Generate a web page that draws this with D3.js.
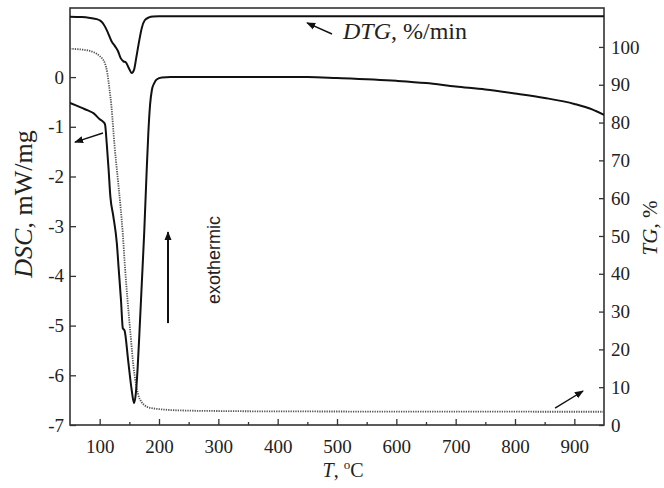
<!DOCTYPE html>
<html>
<head>
<meta charset="utf-8">
<script src="https://cdn.jsdelivr.net/npm/d3@7"></script>
<style>
  body { margin: 0; background: #fff; }
  svg { display: block; }
  .tick text { font-family: "Liberation Serif", "Times New Roman", serif; font-size: 19px; fill: #222; }
  .tick line { stroke: #333; stroke-width: 1.3; }
  .ttl { font-family: "Liberation Serif", "Times New Roman", serif; fill: #222; }
</style>
</head>
<body>
<div id="chart"></div>
<script>
// DSC curve, mW/mg (left axis)
var dscT = [50, 60, 70, 80, 90, 100, 106, 109, 112, 115, 118, 123, 129, 132, 136, 139, 142, 148, 154, 158,
            161, 164, 167, 171, 175, 179, 182, 185, 188, 192, 196, 205, 220, 300, 400, 450, 500, 600, 650,
            700, 750, 800, 850, 900, 930, 950];
var dscV = [-0.52, -0.57, -0.62, -0.67, -0.73, -0.85, -0.9, -0.95, -1.35, -1.85, -2.4, -2.8, -3.35, -3.85, -4.5, -5.05, -5.1, -5.7, -6.3, -6.56,
            -6.36, -5.85, -5.15, -4.15, -3.15, -1.95, -1.13, -0.55, -0.26, -0.12, -0.05, -0.01, 0, 0, 0, 0, -0.02, -0.075, -0.12,
            -0.19, -0.25, -0.33, -0.42, -0.54, -0.65, -0.76];

// TG curve, % (right axis)
var tgT = [50, 70, 90, 100, 105, 109, 113, 116, 120, 125, 130, 135, 139, 143, 147, 152, 157, 161, 165, 170,
           175, 180, 190, 200, 215, 250, 300, 400, 950];
var tgV = [99.5, 99.3, 98.6, 97.6, 96.8, 95.6, 93, 89.5, 84, 74, 66, 58, 50.5, 41, 33, 24, 15.5, 11, 8, 6.2,
           5.3, 4.8, 4.4, 4.2, 4.0, 3.8, 3.7, 3.6, 3.5];

// DTG curve, %/min (no axis drawn)
var dtgT = [50, 70, 84, 95, 101, 105, 109, 114, 120, 126, 131, 135, 140, 144, 149, 154, 158, 162, 167, 171,
            176, 183, 190, 200, 950];
var dtgV = [-0.2, -0.4, -0.9, -1.5, -2.3, -3.5, -5.5, -8.8, -13.3, -16, -18.6, -22, -24, -24.5, -27.5, -30.2, -28.4, -21.5, -12.4, -6.2,
            -2.1, -0.6, -0.1, 0, 0];

var xTicks = [100, 200, 300, 400, 500, 600, 700, 800, 900];
var xMinor = [150, 250, 350, 450, 550, 650, 750, 850];
var dscTicks = [-7, -6, -5, -4, -3, -2, -1, 0];
var tgTicks = [0, 10, 20, 30, 40, 50, 60, 70, 80, 90, 100];

var margin = {top: 8, right: 60, bottom: 63, left: 70},
    width = 664 - margin.left - margin.right,
    height = 488 - margin.top - margin.bottom;

var svg = d3.select("#chart").append("svg")
    .attr("width", 664)
    .attr("height", 488);

var defs = svg.append("defs");
defs.append("marker")
    .attr("id", "head")
    .attr("viewBox", "0 0 10 10")
    .attr("refX", 9).attr("refY", 5)
    .attr("markerWidth", 9).attr("markerHeight", 9)
    .attr("markerUnits", "userSpaceOnUse")
    .attr("orient", "auto")
  .append("path")
    .attr("d", "M0,1 L10,5 L0,9 Z")
    .attr("fill", "#111");

var g = svg.append("g")
    .attr("transform", "translate(" + margin.left + "," + margin.top + ")");

var x = d3.scaleLinear().domain([50, 950]).range([0, width]);
var yDsc = d3.scaleLinear().domain([-7, 1.39]).range([height, 0]);
var yTg = d3.scaleLinear().domain([0, 110.3]).range([height, 0]);
var yDtg = d3.scaleLinear().domain([-217.7, 4.42]).range([height, 0]);

var plain = function(d) { return String(d); };   // keep the plain hyphen for negatives

// axes, ticks pointing inward
g.append("g")
    .attr("transform", "translate(0," + height + ")")
    .call(d3.axisBottom(x).tickValues(xMinor).tickSize(-3).tickFormat(""))
    .call(function(a) { a.select(".domain").remove(); });

g.append("g")
    .attr("transform", "translate(0," + height + ")")
    .call(d3.axisBottom(x).tickValues(xTicks).tickSizeInner(-6).tickSizeOuter(0).tickPadding(15).tickFormat(plain))
    .call(function(a) { a.select(".domain").remove(); });

g.append("g")
    .call(d3.axisLeft(yDsc).tickValues(dscTicks).tickSizeInner(-6).tickSizeOuter(0).tickPadding(6).tickFormat(plain))
    .call(function(a) { a.select(".domain").remove(); });

g.append("g")
    .attr("transform", "translate(" + width + ",0)")
    .call(d3.axisRight(yTg).tickValues(tgTicks).tickSizeInner(-5).tickSizeOuter(0).tickPadding(7).tickFormat(plain))
    .call(function(a) { a.select(".domain").remove(); });

g.append("rect")
    .attr("width", width)
    .attr("height", height)
    .attr("fill", "none")
    .attr("stroke", "#333")
    .attr("stroke-width", 1.6);

var clip = defs.append("clipPath").attr("id", "clip");
clip.append("rect").attr("width", width).attr("height", height);

var plot = g.append("g").attr("clip-path", "url(#clip)");

function series(ts, vs) {
  return ts.map(function(t, i) { return [t, vs[i]]; });
}

// TG, dotted grey
plot.append("path")
    .datum(series(tgT, tgV))
    .attr("fill", "none")
    .attr("stroke", "#555")
    .attr("stroke-width", 1.8)
    .attr("stroke-dasharray", "1.3,1.1")
    .attr("d", d3.line().curve(d3.curveMonotoneX)
        .x(function(d) { return x(d[0]); })
        .y(function(d) { return yTg(d[1]); }));

// DSC
plot.append("path")
    .datum(series(dscT, dscV))
    .attr("fill", "none")
    .attr("stroke", "#111")
    .attr("stroke-width", 2)
    .attr("d", d3.line().curve(d3.curveMonotoneX)
        .x(function(d) { return x(d[0]); })
        .y(function(d) { return yDsc(d[1]); }));

// DTG
plot.append("path")
    .datum(series(dtgT, dtgV))
    .attr("fill", "none")
    .attr("stroke", "#111")
    .attr("stroke-width", 2)
    .attr("d", d3.line().curve(d3.curveMonotoneX)
        .x(function(d) { return x(d[0]); })
        .y(function(d) { return yDtg(d[1]); }));

// annotation arrows (T, DSC units)
var arrows = [
  [[105.6, -1.125], [58.4, -1.31]],
  [[491.6, 0.867], [449.5, 1.089]],
  [[867.5, -6.66], [914.7, -6.316]],
  [[215.2, -4.95], [215.2, -3.12]]
];
g.selectAll(".arrow")
    .data(arrows)
  .enter().append("line")
    .attr("class", "arrow")
    .attr("x1", function(d) { return x(d[0][0]); })
    .attr("y1", function(d) { return yDsc(d[0][1]); })
    .attr("x2", function(d) { return x(d[1][0]); })
    .attr("y2", function(d) { return yDsc(d[1][1]); })
    .attr("stroke", "#111")
    .attr("stroke-width", function(d, i) { return i == 3 ? 2 : 1.4; })
    .attr("marker-end", "url(#head)");

// texts
g.append("text")
    .attr("class", "ttl")
    .attr("x", 273).attr("y", 31)
    .style("font-size", "24px")
    .html('<tspan font-style="italic">DTG</tspan>, %/min');

g.append("text")
    .attr("transform", "translate(150,252) rotate(-90)")
    .attr("text-anchor", "middle")
    .style("font-family", '"Liberation Sans", Arial, sans-serif')
    .style("font-size", "18px")
    .style("fill", "#222")
    .text("exothermic");

svg.append("text")
    .attr("class", "ttl")
    .attr("transform", "translate(32,204) rotate(-90)")
    .attr("text-anchor", "middle")
    .style("font-size", "26px")
    .html('<tspan font-style="italic">DSC</tspan>, mW/mg');

svg.append("text")
    .attr("class", "ttl")
    .attr("transform", "translate(657,228) rotate(-90)")
    .attr("text-anchor", "middle")
    .style("font-size", "21px")
    .html('<tspan font-style="italic">TG</tspan>, %');

svg.append("text")
    .attr("class", "ttl")
    .attr("x", 343).attr("y", 477)
    .attr("text-anchor", "middle")
    .style("font-size", "20px")
    .html('<tspan font-style="italic">T</tspan>, <tspan font-size="13px" dy="-8">o</tspan><tspan dy="8">C</tspan>');
</script>
</body>
</html>
